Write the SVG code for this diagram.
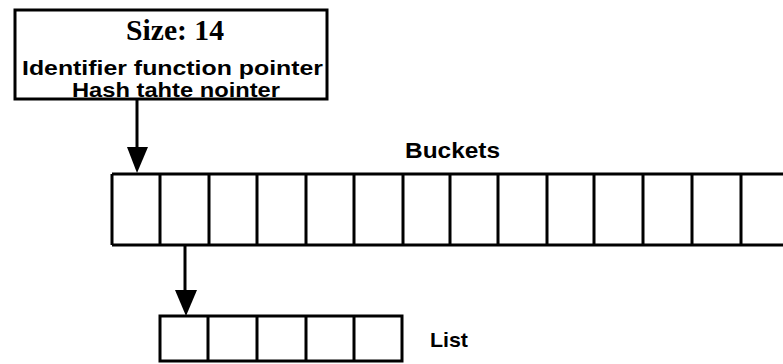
<svg xmlns="http://www.w3.org/2000/svg" width="783" height="364" viewBox="0 0 783 364">
<style>
.box{fill:#fff;stroke:#000;stroke-width:3}
.cell{fill:none;stroke:#000;stroke-width:3}
.line{stroke:#000;stroke-width:3;fill:none}
.sans{font-family:"Liberation Sans",Arial,sans-serif;font-weight:bold;fill:#000}
.serif{font-family:"Liberation Serif","Times New Roman",serif;font-weight:bold;fill:#000}
</style>
<rect width="783" height="364" fill="#fff"/>
<g id="header">
<rect class="box" x="15" y="10" width="312" height="89"/>
<text class="serif" x="126" y="40" font-size="30" textLength="98" lengthAdjust="spacingAndGlyphs">Size: 14</text>
<text class="sans" x="22" y="75" font-size="19.5" textLength="301" lengthAdjust="spacingAndGlyphs">Identifier function pointer</text>
<text class="sans" x="72" y="97" font-size="19.5" textLength="208" lengthAdjust="spacingAndGlyphs">Hash tahte nointer</text>
</g>
<g id="buckets">
<text class="sans" x="405" y="158" font-size="22" textLength="95" lengthAdjust="spacingAndGlyphs">Buckets</text>
<path class="cell" d="M112,174 H790 M112,245 H790 M112,174 V245 M160,174 V245 M209,174 V245 M257,174 V245 M306,174 V245 M354,174 V245 M403,174 V245 M450,174 V245 M498,174 V245 M547,174 V245 M594,174 V245 M643,174 V245 M692,174 V245 M741,174 V245"/>
</g>
<g id="list">
<rect class="cell" x="160" y="316" width="242" height="45"/>
<path class="cell" d="M208,316 V361 M257,316 V361 M306,316 V361 M354,316 V361"/>
<text class="sans" x="430" y="347" font-size="21" textLength="38" lengthAdjust="spacingAndGlyphs">List</text>
</g>
<g id="connectors">
<path class="line" d="M137,99 V150"/>
<polygon points="127,147 148,147 137,173" fill="#000"/>
<path class="line" d="M185,245 V292"/>
<polygon points="175,290 197,290 186,316" fill="#000"/>
</g>
</svg>
